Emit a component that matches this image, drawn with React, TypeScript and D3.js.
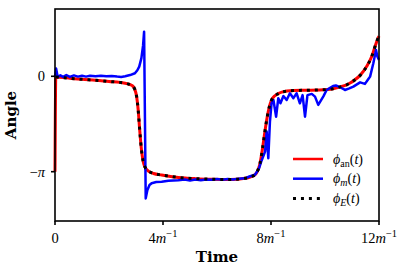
import * as React from 'react';
import * as d3 from 'd3';

// analytic phase (red), also used for the energy phase (black dotted)
const anTime = [0, 0.03, 0.5, 1.0, 1.5, 2.0, 2.4, 2.7, 2.85, 2.95, 3.02, 3.08, 3.14, 3.2, 3.27, 3.35, 3.46, 3.65, 3.95, 4.57, 5.2, 5.8, 6.5, 7.04, 7.25, 7.41, 7.5, 7.59, 7.69, 7.77, 7.84, 7.94, 8.02, 8.12, 8.25, 8.4, 8.83, 9.3, 9.8, 10.3, 10.56, 10.8, 10.93, 11.1, 11.3, 11.54, 11.73, 11.85, 11.93, 12.0];
const anPhase = [-3.1416, -0.02, -0.06, -0.1, -0.13, -0.17, -0.2, -0.25, -0.3, -0.42, -0.65, -1.1, -1.8, -2.4, -2.82, -3.02, -3.12, -3.2, -3.25, -3.33, -3.37, -3.39, -3.4, -3.36, -3.31, -3.24, -3.12, -2.88, -2.35, -1.85, -1.44, -1.0, -0.78, -0.66, -0.58, -0.52, -0.47, -0.46, -0.45, -0.41, -0.35, -0.28, -0.22, -0.12, 0.03, 0.32, 0.65, 0.97, 1.18, 1.32];

// measured phase (blue)
const mTime = [0, 0.04, 0.1, 0.2, 0.3, 0.42, 0.55, 0.7, 0.85, 1.0, 1.15, 1.3, 1.5, 1.7, 1.9, 2.1, 2.3, 2.45, 2.6, 2.78, 2.96, 3.05, 3.12, 3.2, 3.26, 3.3, 3.36, 3.42, 3.5, 3.58, 3.75, 3.95, 4.2, 4.57, 4.8, 5.0, 5.2, 5.4, 5.6, 5.8, 6.0, 6.2, 6.4, 6.6, 6.8, 7.04, 7.2, 7.41, 7.55, 7.65, 7.78, 7.84, 7.9, 7.96, 8.02, 8.09, 8.19, 8.27, 8.35, 8.46, 8.58, 8.7, 8.83, 8.95, 9.07, 9.17, 9.26, 9.35, 9.51, 9.63, 9.75, 9.94, 10.06, 10.19, 10.3, 10.4, 10.56, 10.74, 10.9, 11.05, 11.3, 11.48, 11.6, 11.67, 11.79, 11.89, 11.94, 12.0];
const mPhase = [-0.02, 0.26, -0.02, 0.03, -0.02, 0.04, -0.02, 0.03, -0.01, 0.02, -0.01, 0.02, 0.0, 0.02, 0.0, 0.01, -0.01, -0.02, 0.0, 0.04, 0.1, 0.2, 0.32, 0.6, 1.0, 1.47, -4.02, -3.75, -3.58, -3.52, -3.48, -3.47, -3.44, -3.42, -3.4, -3.43, -3.4, -3.42, -3.4, -3.41, -3.38, -3.41, -3.38, -3.4, -3.37, -3.36, -3.3, -3.24, -3.05, -2.78, -2.48, -1.82, -2.7, -1.5, -0.89, -0.78, -1.33, -0.72, -0.89, -0.65, -0.78, -0.56, -0.72, -0.56, -0.89, -0.62, -1.33, -0.62, -0.58, -0.67, -0.94, -0.66, -0.45, -0.38, -0.32, -0.3, -0.36, -0.45, -0.4, -0.34, -0.2, -0.25, -0.1, -0.01, 0.43, 0.87, 0.65, 0.54];

// energy phase sits on the analytic curve (without the initial jump)
const eTime = anTime.slice(1);
const ePhase = anPhase.slice(1);

const xTicks = [0, 4, 8, 12];
const yTicks = [0, -Math.PI];

const legendItems = [
  { sub: 'an', subItalic: false, color: '#ff0000', dash: null },
  { sub: 'm', subItalic: true, color: '#0000ff', dash: null },
  { sub: 'E', subItalic: true, color: '#000000', dash: '3 4.95' },
];

const W = 407;
const H = 269;
const left = 55;
const right = 379;
const top = 9;
const bottom = 221;
const serif = "'Liberation Serif', 'DejaVu Serif', serif";

const App = () => {
  const x = d3.scaleLinear().domain([0, 12]).range([left, right]);
  const y = d3.scaleLinear().domain([-4.765, 2.216]).range([bottom, top]);

  const smooth = d3
    .line<[number, number]>()
    .x((d) => x(d[0]))
    .y((d) => y(d[1]))
    .curve(d3.curveMonotoneX);
  const straight = d3
    .line<[number, number]>()
    .x((d) => x(d[0]))
    .y((d) => y(d[1]));

  const anPath = smooth(anTime.map((t, i) => [t, anPhase[i]]));
  const ePath = smooth(eTime.map((t, i) => [t, ePhase[i]]));
  const mPath = straight(mTime.map((t, i) => [t, mPhase[i]]));

  return (
    <svg width={W} height={H} style={{ position: 'absolute', left: 0, top: 0, background: '#fff' }}>
      <path d={anPath} fill='none' stroke='#ff0000' strokeWidth={3} strokeLinejoin='round' />
      <path d={mPath} fill='none' stroke='#0000ff' strokeWidth={2.5} strokeLinejoin='round' />
      <path d={ePath} fill='none' stroke='#000' strokeWidth={3} strokeDasharray='3 4.95' />

      <rect x={left} y={top} width={right - left} height={bottom - top} fill='none' stroke='#000' strokeWidth={1.6} />

      {xTicks.map((t) => (
        <g key={t}>
          <line x1={x(t)} x2={x(t)} y1={bottom} y2={bottom + 4} stroke='#000' strokeWidth={1.6} />
          <text x={x(t)} y={243} textAnchor='middle' fontFamily={serif} fontSize={14.5}>
            {t === 0 ? (
              '0'
            ) : (
              <>
                {t}
                <tspan fontStyle='italic'>m</tspan>
                <tspan dy={-6} fontSize={10.5}>{'\u22121'}</tspan>
              </>
            )}
          </text>
        </g>
      ))}

      {yTicks.map((v, i) => (
        <g key={i}>
          <line x1={left - 4} x2={left} y1={y(v)} y2={y(v)} stroke='#000' strokeWidth={1.6} />
          <text x={45} y={y(v) + 5} textAnchor='end' fontFamily={serif} fontSize={14.5}>
            {v === 0 ? '0' : (
              <>
                {'\u2212'}
                <tspan fontStyle='italic'>{'\u03c0'}</tspan>
              </>
            )}
          </text>
        </g>
      ))}

      <text x={(left + right) / 2} y={262} textAnchor='middle' fontFamily="'DejaVu Serif', serif" fontWeight='bold' fontSize={15}>
        Time
      </text>
      <text
        transform={`translate(16 ${(top + bottom) / 2}) rotate(-90)`}
        textAnchor='middle'
        fontFamily="'DejaVu Serif', serif"
        fontWeight='bold'
        fontSize={15}>
        Angle
      </text>

      {legendItems.map((d, i) => {
        const ly = 159 + i * 19.7;
        return (
          <g key={i}>
            <line x1={293} x2={323} y1={ly} y2={ly} stroke={d.color} strokeWidth={d.dash ? 3 : 2.5} strokeDasharray={d.dash || undefined} />
            <text x={333} y={ly + 4.5} fontFamily={serif} fontSize={14}>
              <tspan fontStyle='italic'>{'\u03d5'}</tspan>
              <tspan dy={3} fontSize={10} fontStyle={d.subItalic ? 'italic' : 'normal'}>{d.sub}</tspan>
              <tspan dy={-3}>(</tspan>
              <tspan fontStyle='italic'>t</tspan>
              <tspan>)</tspan>
            </text>
          </g>
        );
      })}
    </svg>
  );
};

export default App;
